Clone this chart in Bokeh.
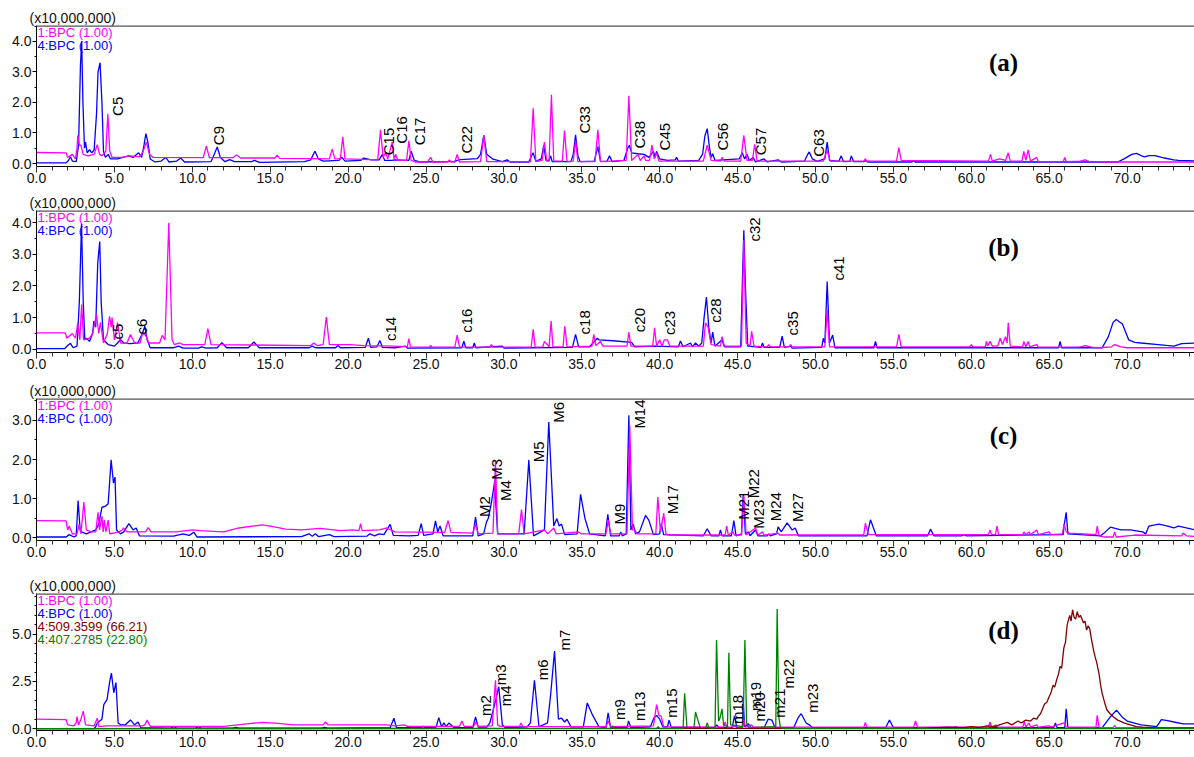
import math
from bokeh.plotting import figure
from bokeh.layouts import column
from bokeh.models import Range1d, Label, LinearAxis, SingleIntervalTicker, PrintfTickFormatter, ColumnDataSource, Title, Span
from bokeh.embed import file_html
from bokeh.resources import INLINE
from bokeh.core.properties import value

# ---------------- data (retention time [min], intensity [x10,000,000]) ----------------
a_bpc4 = [(0,0.02),(1.9,0.02),(2.05,0.1),(2.18,0.22),(2.3,0.08),(2.55,0.06),(2.7,0.6),(2.82,3.2),(2.9,4.0),(2.98,2.0),(3.08,0.5),(3.15,0.7),(3.25,0.35),(3.4,0.45),(3.55,0.35),(3.7,0.45),(3.85,1.6),(3.95,3.0),(4.08,3.3),(4.2,2.0),(4.3,0.4),(4.42,0.2),(4.6,0.3),(4.75,0.15),(5.2,0.15),(5.9,0.25),(6.2,0.2),(6.55,0.35),(6.75,0.2),(6.9,0.6),(7.02,0.98),(7.15,0.7),(7.3,0.15),(7.6,0.05),(8.0,0.08),(8.3,0.2),(8.5,0.05),(9.0,0.08),(9.25,0.18),(9.5,0.05),(11.2,0.06),(11.45,0.35),(11.6,0.54),(11.8,0.2),(12.1,0.06),(12.4,0.13),(12.7,0.06),(13.8,0.06),(14.0,0.1),(14.3,0.04),(17.2,0.06),(17.6,0.12),(17.87,0.4),(18.1,0.15),(18.4,0.08),(19.4,0.1),(19.6,0.2),(19.8,0.08),(20.8,0.1),(21.0,0.18),(21.5,0.12),(22.0,0.12),(22.2,0.3),(22.35,0.1),(22.8,0.1),(23.0,0.12),(23.9,0.1),(24.05,0.4),(24.25,0.1),(24.6,0.05),(26.8,0.07),(27.2,0.13),(28.3,0.16),(28.5,0.3),(28.71,0.92),(28.9,0.3),(29.3,0.14),(29.9,0.06),(30.2,0.12),(30.4,0.05),(31.6,0.05),(31.87,0.35),(32.05,0.07),(32.4,0.15),(32.56,0.6),(32.7,0.1),(32.9,0.1),(33.0,0.25),(33.1,0.06),(34.3,0.06),(34.45,0.3),(34.6,0.94),(34.75,0.25),(34.9,0.06),(35.8,0.08),(36.03,0.55),(36.2,0.08),(36.6,0.06),(36.78,0.25),(36.95,0.06),(37.7,0.1),(37.95,0.5),(38.05,0.6),(38.2,0.35),(38.6,0.32),(39.0,0.3),(39.3,0.2),(39.6,0.4),(39.7,0.2),(39.8,0.4),(40.0,0.15),(40.5,0.1),(41.0,0.12),(41.08,0.2),(41.2,0.08),(42.5,0.1),(42.75,0.3),(42.9,0.9),(43.05,1.14),(43.2,0.5),(43.3,0.2),(43.4,0.32),(43.55,0.1),(45.1,0.15),(45.3,0.35),(45.45,0.15),(45.6,0.3),(45.75,0.1),(46.0,0.2),(46.15,0.05),(46.7,0.15),(46.9,0.05),(47.6,0.12),(47.8,0.05),(49.3,0.08),(49.5,0.3),(49.6,0.38),(49.8,0.15),(50.1,0.07),(50.6,0.15),(50.75,0.7),(50.9,0.1),(51.5,0.07),(51.65,0.25),(51.8,0.06),(52.2,0.07),(52.3,0.25),(52.45,0.06),(53.1,0.06),(53.2,0.1),(53.35,0.05),(56.2,0.05),(56.27,0.1),(56.4,0.05),(69.4,0.05),(69.8,0.15),(70.3,0.3),(70.6,0.33),(70.9,0.26),(71.1,0.22),(71.4,0.26),(71.8,0.26),(72.4,0.18),(73.0,0.12),(73.3,0.1),(74.4,0.08)]
a_bpc1 = [(0,0.36),(1.9,0.35),(2.0,0.2),(2.3,0.3),(2.5,0.15),(2.6,0.5),(2.65,0.92),(2.75,0.6),(2.85,0.6),(3.0,0.3),(3.3,0.25),(3.7,0.3),(3.9,0.62),(4.05,0.3),(4.2,0.25),(4.45,0.4),(4.58,1.63),(4.7,0.4),(4.85,0.2),(5.5,0.2),(6.0,0.25),(6.6,0.22),(6.85,0.4),(7.05,0.7),(7.25,0.3),(7.5,0.2),(10.7,0.19),(10.9,0.57),(11.1,0.19),(12.6,0.19),(12.84,0.28),(13.1,0.18),(15.3,0.18),(15.45,0.27),(15.6,0.17),(18.8,0.15),(18.98,0.47),(19.15,0.15),(19.5,0.15),(19.66,0.87),(19.8,0.15),(21.9,0.12),(22.08,1.1),(22.25,0.2),(22.4,0.35),(22.55,0.15),(22.83,0.7),(22.95,0.15),(23.05,0.3),(23.2,0.1),(23.75,0.1),(23.9,0.74),(24.05,0.1),(24.3,0.05),(25.1,0.05),(25.29,0.2),(25.45,0.05),(26.4,0.05),(26.5,0.12),(26.6,0.05),(26.85,0.05),(27.0,0.3),(27.15,0.05),(28.5,0.06),(28.71,0.92),(28.9,0.06),(31.7,0.06),(31.88,1.81),(32.05,0.06),(32.45,0.1),(32.6,0.7),(32.75,0.08),(32.9,0.08),(33.05,2.25),(33.2,0.08),(33.75,0.08),(33.89,1.08),(34.05,0.06),(34.45,0.08),(34.6,0.75),(34.75,0.06),(35.85,0.06),(36.03,1.1),(36.2,0.06),(37.85,0.1),(38.02,2.22),(38.2,0.1),(38.6,0.3),(38.75,0.1),(39.0,0.25),(39.1,0.1),(39.35,0.1),(39.5,0.6),(39.65,0.15),(39.8,0.35),(39.95,0.08),(42.8,0.08),(43.05,0.6),(43.3,0.1),(43.9,0.08),(44.0,0.2),(44.15,0.08),(45.2,0.08),(45.4,0.92),(45.6,0.1),(45.95,0.1),(46.1,0.63),(46.25,0.08),(50.5,0.08),(50.75,0.43),(50.95,0.08),(53.1,0.08),(53.2,0.15),(53.3,0.08),(55.2,0.08),(55.35,0.52),(55.5,0.1),(61.1,0.08),(61.23,0.3),(61.35,0.08),(61.8,0.15),(62.2,0.1),(62.37,0.35),(62.5,0.08),(63.25,0.08),(63.37,0.4),(63.5,0.1),(63.65,0.45),(63.8,0.08),(64.2,0.2),(64.3,0.06),(65.9,0.06),(66.0,0.2),(66.1,0.06),(67.0,0.08),(67.3,0.12),(67.6,0.06),(69.0,0.05),(74.4,0.05)]

b_bpc4 = [(0,0.02),(1.8,0.02),(2.0,0.12),(2.18,0.19),(2.35,0.05),(2.6,0.1),(2.75,1.5),(2.89,3.97),(3.0,1.5),(3.1,0.3),(3.2,0.35),(3.4,0.25),(3.6,0.5),(3.68,0.89),(3.8,0.7),(3.93,2.72),(4.06,3.4),(4.15,1.5),(4.3,0.3),(4.6,0.15),(5.0,0.1),(5.2,0.2),(5.39,0.31),(5.6,0.2),(6.0,0.18),(6.5,0.2),(6.8,0.5),(6.95,0.73),(7.1,0.3),(7.3,0.05),(8.8,0.05),(9.13,0.1),(9.4,0.04),(10.4,0.04),(10.6,0.08),(10.9,0.04),(11.6,0.05),(11.9,0.21),(12.2,0.05),(13.6,0.05),(13.95,0.23),(14.3,0.05),(17.5,0.05),(17.7,0.1),(17.9,0.05),(19.2,0.05),(19.35,0.12),(19.5,0.05),(21.1,0.06),(21.3,0.35),(21.45,0.06),(21.85,0.08),(22.04,0.28),(22.2,0.06),(23.0,0.05),(23.68,0.1),(23.8,0.04),(27.3,0.05),(27.43,0.26),(27.55,0.05),(28.0,0.05),(28.1,0.2),(28.2,0.05),(29.9,0.1),(30.0,0.04),(34.4,0.06),(34.6,0.47),(34.8,0.08),(35.5,0.08),(36.0,0.35),(36.1,0.3),(37.0,0.27),(38.2,0.22),(38.4,0.08),(39.6,0.1),(41.2,0.08),(41.33,0.26),(41.5,0.08),(41.98,0.2),(42.1,0.08),(42.3,0.2),(42.5,0.1),(42.7,0.2),(42.85,1.0),(43.0,1.65),(43.15,0.7),(43.3,0.2),(43.4,0.54),(43.55,0.1),(44.0,0.3),(44.15,0.08),(45.2,0.08),(45.3,2.0),(45.4,3.76),(45.5,2.0),(45.65,0.1),(46.5,0.06),(46.6,0.2),(46.7,0.06),(47.7,0.06),(47.86,0.42),(48.0,0.06),(48.4,0.1),(48.5,0.04),(50.4,0.06),(50.5,0.35),(50.6,0.2),(50.75,2.14),(50.9,0.2),(51.1,0.45),(51.25,0.05),(53.75,0.05),(53.85,0.25),(53.95,0.05),(65.6,0.05),(65.7,0.25),(65.8,0.05),(68.4,0.05),(68.8,0.4),(69.1,0.85),(69.3,0.94),(69.7,0.8),(70.1,0.3),(70.5,0.22),(70.9,0.2),(72.0,0.15),(73.0,0.1),(73.5,0.18),(74.4,0.2)]
b_bpc1 = [(0,0.52),(1.85,0.52),(1.95,0.35),(2.3,0.5),(2.5,0.35),(2.65,0.84),(2.78,0.3),(2.9,1.41),(3.02,0.3),(3.4,0.35),(3.6,0.5),(3.85,1.1),(4.0,0.5),(4.1,0.85),(4.3,0.2),(4.55,0.5),(4.69,1.04),(4.8,0.7),(4.85,1.0),(5.0,0.3),(5.2,0.84),(5.4,0.2),(5.8,0.19),(6.03,0.47),(6.3,0.2),(6.65,0.2),(6.8,0.5),(7.0,0.45),(7.2,0.2),(7.9,0.2),(8.07,0.44),(8.25,0.3),(8.49,3.99),(8.7,0.3),(8.85,0.15),(9.2,0.2),(9.4,0.15),(10.8,0.15),(11.0,0.65),(11.2,0.15),(17.6,0.12),(17.8,0.2),(18.0,0.12),(18.4,0.15),(18.6,1.02),(18.8,0.15),(19.4,0.15),(20.1,0.15),(21.0,0.12),(23.0,0.1),(23.8,0.08),(23.9,0.34),(24.0,0.08),(25.2,0.07),(25.3,0.12),(25.4,0.07),(26.85,0.07),(27.0,0.45),(27.15,0.07),(29.1,0.07),(29.2,0.15),(29.3,0.07),(31.75,0.07),(31.88,0.63),(32.0,0.07),(32.5,0.08),(32.6,0.25),(32.9,0.08),(33.03,0.89),(33.15,0.08),(33.8,0.08),(33.91,0.73),(34.05,0.08),(35.65,0.1),(35.77,0.47),(35.9,0.12),(36.2,0.25),(36.35,0.1),(37.9,0.1),(38.02,0.54),(38.15,0.1),(39.55,0.1),(39.67,0.68),(39.8,0.1),(40.0,0.3),(40.15,0.1),(40.3,0.3),(40.5,0.3),(40.65,0.1),(42.8,0.1),(42.94,0.84),(43.1,0.7),(43.3,0.15),(43.9,0.1),(44.0,0.4),(44.15,0.1),(45.25,0.1),(45.4,3.45),(45.55,0.2),(45.8,0.1),(45.9,0.57),(46.05,0.1),(46.9,0.08),(47.0,0.15),(47.1,0.08),(48.3,0.08),(48.4,0.15),(48.5,0.08),(50.6,0.08),(50.75,1.25),(50.9,0.08),(55.2,0.08),(55.35,0.47),(55.5,0.08),(59.9,0.08),(60.0,0.15),(60.1,0.08),(60.9,0.08),(60.97,0.25),(61.05,0.1),(61.2,0.25),(61.35,0.1),(61.7,0.1),(61.85,0.35),(62.0,0.15),(62.2,0.4),(62.3,0.2),(62.37,0.84),(62.5,0.1),(63.3,0.08),(63.37,0.25),(63.5,0.08),(63.65,0.25),(63.75,0.08),(64.2,0.15),(64.3,0.07),(67.0,0.08),(67.3,0.12),(67.7,0.07),(68.2,0.05),(69.0,0.08),(69.2,0.15),(69.6,0.08),(70.0,0.05),(74.4,0.05)]

c_bpc4 = [(0,0.02),(1.9,0.02),(2.1,0.08),(2.4,0.02),(2.55,0.05),(2.67,0.95),(2.8,0.2),(2.9,0.15),(3.2,0.1),(3.5,0.15),(3.8,0.2),(4.0,0.35),(4.2,0.78),(4.4,0.8),(4.6,0.87),(4.79,1.99),(4.94,1.4),(5.04,1.55),(5.14,0.2),(5.4,0.1),(5.6,0.15),(5.93,0.36),(6.2,0.2),(6.4,0.25),(6.6,0.05),(8.8,0.04),(9.4,0.1),(9.8,0.06),(10.1,0.14),(10.3,0.02),(17.0,0.03),(17.5,0.1),(17.7,0.04),(17.9,0.1),(18.1,0.03),(18.8,0.08),(19.1,0.03),(21.2,0.04),(21.4,0.1),(21.7,0.05),(22.0,0.1),(22.3,0.08),(22.7,0.34),(22.9,0.06),(23.9,0.05),(24.5,0.06),(24.69,0.36),(24.85,0.06),(25.45,0.1),(25.61,0.43),(25.75,0.15),(25.9,0.3),(26.1,0.05),(28.0,0.05),(28.18,0.53),(28.35,0.05),(28.7,0.1),(28.88,0.4),(29.0,0.5),(29.2,0.9),(29.42,1.47),(29.47,0.95),(29.6,0.1),(31.3,0.1),(31.6,1.99),(31.9,0.05),(32.6,0.2),(32.88,2.96),(33.2,0.3),(33.4,0.49),(33.55,0.3),(33.7,0.35),(33.9,0.08),(34.7,0.1),(34.92,1.11),(35.2,0.5),(35.5,0.1),(36.5,0.05),(36.67,0.6),(36.85,0.05),(37.4,0.05),(37.5,0.15),(37.6,0.05),(37.85,0.1),(38.02,3.13),(38.15,0.2),(38.3,0.35),(38.45,0.1),(38.7,0.15),(39.09,0.57),(39.3,0.45),(39.6,0.08),(40.0,0.1),(40.1,0.36),(40.25,0.08),(42.8,0.05),(43.05,0.23),(43.3,0.05),(43.8,0.05),(43.9,0.2),(44.0,0.05),(44.6,0.05),(44.76,0.44),(44.9,0.05),(45.25,0.1),(45.36,1.12),(45.5,0.1),(45.7,0.15),(45.8,0.05),(46.15,0.2),(46.3,0.05),(46.9,0.05),(47.0,0.1),(47.1,0.05),(47.5,0.1),(47.6,0.28),(47.8,0.15),(48.18,0.38),(48.5,0.2),(48.7,0.25),(48.9,0.05),(53.3,0.05),(53.53,0.46),(53.9,0.05),(57.2,0.05),(57.38,0.22),(57.6,0.05),(59.4,0.05),(59.5,0.08),(59.7,0.05),(65.9,0.08),(65.95,0.3),(66.09,0.65),(66.2,0.1),(68.3,0.05),(68.6,0.15),(68.93,0.27),(69.6,0.2),(70.2,0.2),(71.0,0.15),(71.2,0.1),(71.4,0.3),(72.04,0.35),(72.6,0.3),(73.0,0.25),(73.3,0.3),(74.4,0.2)]
c_bpc1 = [(0,0.44),(1.9,0.43),(2.0,0.2),(2.1,0.3),(2.3,0.1),(2.6,0.1),(2.74,0.35),(2.85,0.1),(3.04,0.91),(3.2,0.2),(3.5,0.15),(3.8,0.15),(3.95,0.65),(4.05,0.2),(4.2,0.55),(4.28,0.15),(4.35,0.45),(4.45,0.15),(4.6,0.45),(4.7,0.1),(5.3,0.15),(5.5,0.2),(5.6,0.25),(5.8,0.15),(6.3,0.15),(7.0,0.15),(7.17,0.26),(7.35,0.15),(9.0,0.15),(10.0,0.2),(10.5,0.18),(12.0,0.15),(13.0,0.25),(14.5,0.33),(15.0,0.3),(16.0,0.22),(17.0,0.2),(18.2,0.24),(19.5,0.18),(20.3,0.2),(20.7,0.18),(20.8,0.36),(20.9,0.18),(22.0,0.2),(22.5,0.25),(23.0,0.15),(26.2,0.14),(26.42,0.44),(26.6,0.14),(28.0,0.12),(28.18,0.35),(28.35,0.1),(29.3,0.12),(29.46,1.95),(29.6,0.1),(30.95,0.1),(31.13,0.72),(31.3,0.1),(32.6,0.2),(32.8,0.1),(33.2,0.25),(33.35,0.1),(34.8,0.15),(34.95,0.1),(36.55,0.1),(36.7,0.45),(36.85,0.1),(37.9,0.1),(38.08,2.87),(38.25,0.2),(38.4,0.2),(38.55,0.1),(39.75,0.1),(39.88,1.04),(40.05,0.15),(40.26,0.63),(40.4,0.1),(40.6,0.07),(44.2,0.07),(44.3,0.3),(44.4,0.07),(44.7,0.15),(44.8,0.07),(45.25,0.07),(45.4,1.08),(45.55,0.07),(46.15,0.25),(46.3,0.07),(46.6,0.15),(46.7,0.07),(47.6,0.12),(47.7,0.07),(53.1,0.08),(53.2,0.37),(53.4,0.08),(61.1,0.08),(61.2,0.2),(61.3,0.08),(61.55,0.08),(61.65,0.3),(61.75,0.08),(63.3,0.08),(63.37,0.15),(63.5,0.08),(63.7,0.15),(63.8,0.08),(64.2,0.2),(64.3,0.08),(65.0,0.15),(65.1,0.08),(65.85,0.1),(65.95,0.35),(66.1,0.15),(66.3,0.12),(68.0,0.08),(68.08,0.3),(68.2,0.05),(68.5,0.02),(69.1,0.02),(69.2,0.15),(69.3,0.02),(70.5,0.07),(73.5,0.05),(73.6,0.12),(73.8,0.05),(74.4,0.03)]

d_bpc4 = [(0,0.0),(3.7,0.0),(3.8,0.1),(3.9,0.3),(4.2,0.5),(4.32,1.27),(4.53,1.55),(4.7,2.5),(4.81,2.94),(4.96,1.9),(5.1,2.44),(5.24,0.3),(5.4,0.2),(5.7,0.2),(6.03,0.46),(6.3,0.2),(6.52,0.35),(6.7,0.05),(8.6,0.03),(8.8,0.1),(9.0,0.03),(10.2,0.03),(10.4,0.1),(10.6,0.02),(12.6,0.02),(12.8,0.06),(13.0,0.02),(18.3,0.02),(18.5,0.06),(18.7,0.02),(22.7,0.05),(22.94,0.55),(23.1,0.05),(24.7,0.05),(24.8,0.12),(24.9,0.05),(25.65,0.08),(25.82,0.58),(26.0,0.1),(26.15,0.3),(26.3,0.1),(26.47,0.3),(26.8,0.05),(28.0,0.05),(28.18,0.62),(28.35,0.08),(28.9,0.08),(29.1,0.3),(29.35,1.1),(29.5,1.6),(29.67,2.22),(29.9,0.2),(30.1,0.05),(31.5,0.1),(31.7,0.3),(31.96,2.56),(32.25,0.1),(32.8,0.3),(33.0,1.8),(33.25,4.11),(33.5,0.5),(33.7,0.55),(33.9,0.35),(34.05,0.5),(34.3,0.1),(35.1,0.1),(35.35,1.36),(35.7,0.7),(36.1,0.1),(36.55,0.05),(36.69,0.84),(36.85,0.05),(37.9,0.05),(38.0,0.41),(38.15,0.05),(39.4,0.1),(39.65,0.6),(39.8,0.7),(40.0,0.5),(40.2,0.1),(40.5,0.1),(40.6,0.45),(40.75,0.05),(43.5,0.05),(43.66,0.2),(43.8,0.05),(44.65,0.05),(44.8,0.68),(44.95,0.05),(45.3,0.05),(45.36,1.5),(45.45,0.1),(45.7,0.25),(45.85,0.05),(46.7,0.05),(46.96,0.5),(47.2,0.45),(47.4,0.05),(48.6,0.05),(48.9,0.6),(49.08,0.79),(49.4,0.3),(49.6,0.2),(49.8,0.05),(54.5,0.05),(54.75,0.46),(55.0,0.05),(58.9,0.05),(59.0,0.1),(59.1,0.05),(65.3,0.05),(65.4,0.3),(65.5,0.05),(66.0,0.05),(66.09,1.05),(66.2,0.05),(68.4,0.05),(68.9,0.6),(69.32,0.98),(69.7,0.6),(70.0,0.4),(70.9,0.2),(71.9,0.1),(72.2,0.48),(72.6,0.42),(73.0,0.35),(73.6,0.25),(74.4,0.25)]
d_bpc1 = [(0,0.5),(1.9,0.48),(2.0,0.2),(2.4,0.15),(2.55,0.3),(2.6,0.64),(2.7,0.2),(2.85,0.5),(3.0,0.93),(3.15,0.2),(3.7,0.15),(3.9,0.55),(4.0,0.1),(4.5,0.15),(6.8,0.15),(6.95,0.2),(7.1,0.45),(7.3,0.12),(10.0,0.12),(12.0,0.12),(13.5,0.25),(14.5,0.33),(15.5,0.28),(16.5,0.2),(18.4,0.2),(18.55,0.35),(18.7,0.2),(20.0,0.2),(22.0,0.2),(22.5,0.2),(23.0,0.15),(23.6,0.2),(23.8,0.12),(25.0,0.12),(27.15,0.12),(27.3,0.4),(27.45,0.12),(28.05,0.12),(28.2,0.35),(28.35,0.12),(29.25,0.15),(29.46,2.56),(29.6,0.2),(29.75,0.12),(31.0,0.12),(31.1,0.3),(31.2,0.12),(36.55,0.1),(36.7,0.4),(36.85,0.1),(39.6,0.15),(39.8,1.27),(39.95,0.7),(40.1,0.65),(40.25,0.1),(44.1,0.08),(44.2,0.35),(44.3,0.08),(44.7,0.08),(44.8,0.15),(44.9,0.08),(45.3,0.08),(45.4,0.5),(45.5,0.08),(45.9,0.2),(46.0,0.08),(53.1,0.08),(53.2,0.33),(53.3,0.08),(56.3,0.08),(56.42,0.4),(56.55,0.08),(61.1,0.08),(61.2,0.35),(61.3,0.08),(61.6,0.2),(61.7,0.08),(63.3,0.08),(63.4,0.35),(63.5,0.08),(63.7,0.3),(63.8,0.08),(64.2,0.2),(64.3,0.08),(65.0,0.15),(65.1,0.08),(65.95,0.3),(66.1,0.08),(68.0,0.08),(68.08,0.7),(68.2,0.08),(68.3,0.05),(69.1,0.05),(69.2,0.15),(69.3,0.05),(74.4,0.05)]
d_mz509 = [(0,0.0),(57.0,0.02),(58.5,0.08),(59.5,0.05),(60.0,0.1),(60.5,0.06),(61.0,0.15),(61.5,0.1),(62.0,0.25),(62.3,0.33),(62.6,0.2),(63.0,0.4),(63.2,0.3),(63.5,0.45),(63.8,0.4),(64.0,0.55),(64.2,0.5),(64.3,0.65),(64.45,0.8),(64.55,1.0),(64.7,1.3),(64.85,1.4),(65.0,1.7),(65.1,1.87),(65.25,2.3),(65.35,2.2),(65.5,2.64),(65.6,2.9),(65.7,3.3),(65.8,3.2),(65.94,4.28),(66.05,4.6),(66.15,5.48),(66.25,5.8),(66.32,6.0),(66.4,5.7),(66.5,6.3),(66.6,5.9),(66.7,5.8),(66.8,6.2),(66.9,5.9),(67.0,6.0),(67.1,5.82),(67.2,5.6),(67.3,5.7),(67.4,5.22),(67.5,5.45),(67.6,5.3),(67.7,4.8),(67.86,4.1),(67.95,3.8),(68.05,3.5),(68.2,2.9),(68.3,2.3),(68.4,1.87),(68.55,1.4),(68.7,1.0),(68.9,0.8),(69.15,0.6),(69.4,0.45),(69.8,0.3),(70.2,0.2),(70.6,0.1),(71.0,0.08),(71.7,0.05),(72.5,0.02),(74.4,0.02)]
d_mz407 = [(0,0.0),(36.9,0.0),(37.0,0.15),(37.1,0.0),(39.8,0.0),(39.9,0.1),(40.0,0.0),(41.5,0.0),(41.6,1.87),(41.75,0.05),(42.2,0.05),(42.3,0.88),(42.45,0.45),(42.6,0.05),(42.95,0.05),(43.05,0.3),(43.15,0.05),(43.55,0.0),(43.65,4.7),(43.78,0.4),(43.85,0.5),(44.0,1.05),(44.1,0.2),(44.35,0.1),(44.44,4.02),(44.55,0.2),(45.35,0.1),(45.47,4.7),(45.58,0.3),(45.7,0.05),(47.45,0.1),(47.54,6.34),(47.65,0.6),(47.75,0.05),(48.0,0.0),(74.4,0.0)]

# peak annotations: name, retention time, intensity at text base
a_names = ["C5", "C9", "C15", "C16", "C17", "C22", "C33", "C38", "C45", "C56", "C57", "C63"]
a_name_t = [5.2, 11.65, 22.6, 23.4, 24.6, 27.6, 35.2, 38.7, 40.3, 44.0, 46.5, 50.2]
a_name_v = [1.56, 0.6, 0.27, 0.65, 0.6, 0.33, 0.98, 0.49, 0.43, 0.43, 0.27, 0.22]
b_names = ["c5", "c6", "c14", "c16", "c18", "c20", "c23", "c28", "c32", "c35", "c41"]
b_name_t = [5.18, 6.76, 22.7, 27.6, 35.2, 38.7, 40.6, 43.55, 46.1, 48.5, 51.5]
b_name_v = [0.31, 0.47, 0.26, 0.52, 0.47, 0.54, 0.45, 0.84, 3.4, 0.44, 2.17]
c_names = ["M2", "M3", "M4", "M5", "M6", "M9", "M14", "M17", "M21", "M22", "M23", "M24", "M27"]
c_name_t = [28.77, 29.5, 30.08, 32.19, 33.48, 37.42, 38.7, 40.85, 45.35, 45.99, 46.34, 47.42, 48.83]
c_name_v = [0.53, 1.48, 0.94, 1.93, 2.94, 0.34, 2.79, 0.6, 0.46, 1.01, 0.23, 0.42, 0.4]
d_names = ["m2", "m3", "m4", "m6", "m7", "m9", "m13", "m15", "m18", "m19", "m20", "m21", "m22", "m23"]
d_name_t = [28.82, 29.8, 30.12, 32.5, 33.9, 37.42, 38.7, 40.75, 45.02, 46.15, 46.4, 47.67, 48.24, 49.8]
d_name_v = [0.67, 2.3, 1.18, 2.56, 4.14, 0.46, 0.41, 0.58, 0.24, 0.93, 0.38, 0.58, 2.13, 0.84]

legend_bpc = ["1:BPC (1.00)", "4:BPC (1.00)"]
legend_d = ["1:BPC (1.00)", "4:BPC (1.00)", "4:509.3599 (66.21)", "4:407.2785 (22.80)"]
panel_tags = ["(a)", "(b)", "(c)", "(d)"]
y_scale_text = "(x10,000,000)"

# ---------------- styling ----------------
FONT = "Liberation Sans"
SERIF = "Liberation Serif"
MAGENTA = "#ff00ff"
BLUE = "#0000ff"
DRED = "#800000"
GREEN = "#008000"
W = 1194
LEFT = 36
X_END = (W - LEFT) / 15.58


def make_panel(top, frame_h, bottom, y0, y1, yint, ynminor, traces, names, legend, tag):
    p = figure(width=W, height=top + frame_h + bottom, output_backend="svg", toolbar_location=None,
               x_range=Range1d(0, X_END), y_range=Range1d(y0, y1),
               x_axis_type=None, y_axis_type=None,
               min_border_left=LEFT, min_border_right=0,
               min_border_top=top, min_border_bottom=bottom)
    p.outline_line_color = None
    p.background_fill_color = "white"
    p.border_fill_color = "white"

    t = Title(text=y_scale_text, align="left", offset=-7, standoff=0,
              text_font=FONT, text_font_size="14px", text_font_style="normal",
              text_color="#111111")
    p.add_layout(t, "above")

    xa = LinearAxis(ticker=SingleIntervalTicker(interval=5, num_minor_ticks=5),
                    formatter=PrintfTickFormatter(format="%.1f"))
    xa.axis_line_color = "#000000"
    xa.major_tick_out = 6
    xa.major_tick_in = 0
    xa.minor_tick_out = 4
    xa.minor_tick_in = 0
    xa.major_tick_line_color = "#333333"
    xa.minor_tick_line_color = "#333333"
    xa.major_label_standoff = 0
    xa.major_label_text_font = FONT
    xa.major_label_text_font_size = "14px"
    xa.major_label_text_color = "#111111"
    p.add_layout(xa, "below")

    ya = LinearAxis(ticker=SingleIntervalTicker(interval=yint, num_minor_ticks=ynminor),
                    formatter=PrintfTickFormatter(format="%.1f"))
    ya.axis_line_color = "#000000"
    ya.major_tick_out = 4
    ya.major_tick_in = 0
    ya.minor_tick_out = 2
    ya.minor_tick_in = 0
    ya.major_label_standoff = 1
    ya.major_label_text_font = FONT
    ya.major_label_text_font_size = "14px"
    ya.major_label_text_color = "#111111"
    p.add_layout(ya, "left")

    p.add_layout(Span(location=y1, dimension="width", line_color="#555555", line_width=2.5))

    for pts, col in traces:
        tt = [q[0] for q in pts]
        vv = [q[1] for q in pts]
        p.line(tt, vv, line_color=col, line_width=1.3)

    nm, nt, nv = names
    src = ColumnDataSource(dict(x=nt, y=nv, text=nm))
    p.text(x="x", y="y", text="text", source=src, angle=math.pi / 2,
           text_align="left", text_baseline="middle",
           text_font=value(FONT), text_font_size="15px", text_color="#000000")

    for i, (txt, col) in enumerate(legend):
        p.add_layout(Label(x=0, y=y1, x_offset=1, y_offset=-6.5 - 13.3 * i, text=txt,
                           text_font=FONT, text_font_size="13px", text_color=col,
                           text_align="left", text_baseline="middle"))
    p.add_layout(Label(x=62.07, y=y1, y_offset=-37, text=tag, text_font=SERIF,
                       text_font_style="bold", text_font_size="25px", text_color="#000000",
                       text_align="center", text_baseline="middle"))
    return p


pa = make_panel(25, 141, 26, -0.098, 4.52, 1.0, 2,
                [(a_bpc4, BLUE), (a_bpc1, MAGENTA)],
                (a_names, a_name_t, a_name_v),
                list(zip(legend_bpc, [MAGENTA, BLUE])), panel_tags[0])
pb = make_panel(18, 142, 26, -0.10, 4.38, 1.0, 2,
                [(b_bpc4, BLUE), (b_bpc1, MAGENTA)],
                (b_names, b_name_t, b_name_v),
                list(zip(legend_bpc, [MAGENTA, BLUE])), panel_tags[1])
pc = make_panel(20, 142, 26, -0.07, 3.56, 1.0, 2,
                [(c_bpc4, BLUE), (c_bpc1, MAGENTA)],
                (c_names, c_name_t, c_name_v),
                list(zip(legend_bpc, [MAGENTA, BLUE])), panel_tags[2])
pd_ = make_panel(27, 137, 26, -0.10, 7.16, 2.5, 5,
                 [(d_bpc4, BLUE), (d_bpc1, MAGENTA), (d_mz509, DRED), (d_mz407, GREEN)],
                 (d_names, d_name_t, d_name_v),
                 list(zip(legend_d, [MAGENTA, BLUE, DRED, GREEN])), panel_tags[3])

layout = column(pa, pb, pc, pd_, spacing=0)
open("out.html", "w").write(file_html(layout, INLINE))
